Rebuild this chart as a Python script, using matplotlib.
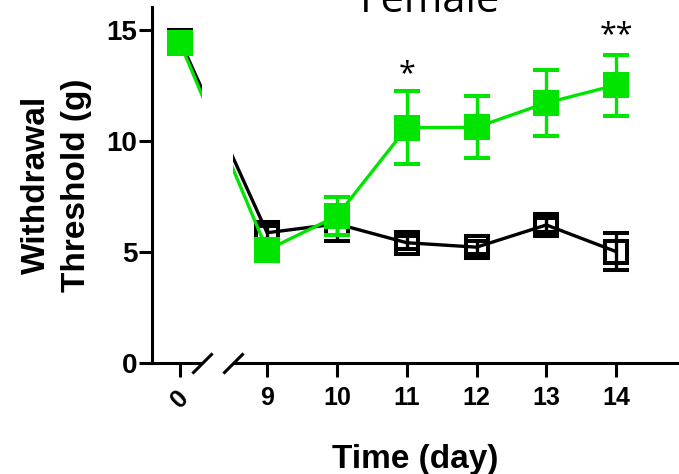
import numpy as np
import matplotlib
matplotlib.use("Agg")
import matplotlib.pyplot as plt

plt.rcParams["font.family"] = ["Liberation Sans", "DejaVu Sans"]
plt.rcParams["font.weight"] = "bold"
plt.rcParams["axes.labelweight"] = "bold"

# data
days = [0, 9, 10, 11, 12, 13, 14]
control_mean = [14.5, 5.85, 6.25, 5.4, 5.2, 6.2, 5.0]
control_err = [0.2, 0.3, 0.75, 0.3, 0.3, 0.3, 0.85]
treated_mean = [14.4, 5.07, 6.6, 10.58, 10.6, 11.7, 12.5]
treated_err = [0.2, 0.3, 0.85, 1.65, 1.4, 1.5, 1.37]
stars = {11: "*", 14: "**"}
star_y = {11: 12.65, 14: 14.4}

green = "#00E400"

# broken x axis: days 0..9 squeezed into ~1.25 day widths
x0_pos = 7.754
squeeze = (9 - x0_pos) / 9


def fwd(x):
    x = np.asarray(x, dtype=float)
    return np.where(x >= 9, x, x0_pos + x * squeeze)


def inv(y):
    y = np.asarray(y, dtype=float)
    return np.where(y >= 9, y, (y - x0_pos) / squeeze)


fig = plt.figure(figsize=(6.79, 4.74), dpi=100)
ax = fig.add_axes([0.2239, 0.235, 0.7761, 0.7494])
ax.set_xscale("function", functions=(fwd, inv))

ax.errorbar(days, control_mean, yerr=control_err, color="black", lw=2.4,
            marker="s", ms=16.5, mfc="none", mec="black", mew=2.9,
            capsize=9.5, capthick=2.9, elinewidth=2.4, zorder=3)
ax.errorbar(days, treated_mean, yerr=treated_err, color=green, lw=2.4,
            marker="s", ms=16.5, mfc=green, mec=green, mew=2.9,
            capsize=9.5, capthick=2.9, elinewidth=2.4, zorder=4)

for d, s in stars.items():
    ax.text(d, star_y[d], s, ha="center", va="baseline", fontsize=22,
            family=["Open Sans", "DejaVu Sans"], fontweight="normal")

ax.set_xlim(float(inv(7.352)), 14.9)
ax.set_ylim(0, 16)

# gap in the axis between the break marks
b_lo, b_hi = 2.22, 5.43
ax.axvspan(b_lo, b_hi, ymin=-0.02, ymax=1, color="white", zorder=10,
           clip_on=False, lw=0)
ax.plot([b_lo, b_hi], [0, 0], ls="none", marker=[(-1, -1), (1, 1)], ms=14.5,
        mew=2.2, color="black", transform=ax.get_xaxis_transform(),
        clip_on=False, zorder=11)

ax.set_xticks(days)
ax.set_xticklabels([str(d) for d in days])
ax.get_xticklabels()[0].set_rotation(45)
ax.set_yticks([0, 5, 10, 15])

for side in ["top", "right"]:
    ax.spines[side].set_visible(False)
for side in ["left", "bottom"]:
    ax.spines[side].set_linewidth(2.2)
ax.tick_params(axis="x", length=10, width=2.2, labelsize=18, pad=7)
ax.tick_params(axis="y", length=9.5, width=2.2, labelsize=20, pad=1)

ax.set_xlabel("Time (day)", fontsize=24, fontweight="bold", labelpad=22)
ax.set_ylabel("Withdrawal\nThreshold (g)", fontsize=24, fontweight="bold",
              linespacing=1.38)
ax.yaxis.set_label_coords(-0.114, 0.5)

fig.text(0.633, 1 - 11.5 / 474, "Female", ha="center", va="baseline",
         fontsize=30, family=["Open Sans", "DejaVu Sans"], fontweight="normal")

fig.savefig("out.png", dpi=100)
